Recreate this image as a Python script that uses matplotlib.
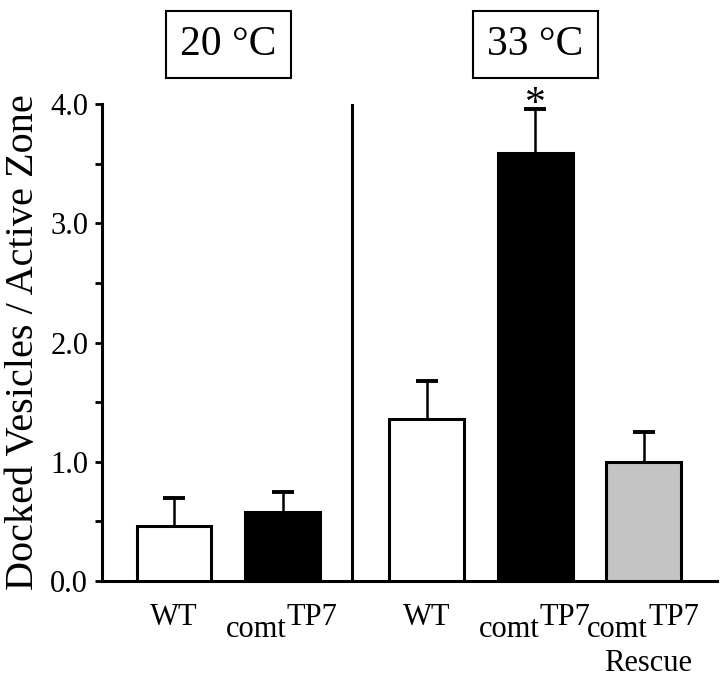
import matplotlib.pyplot as plt
from matplotlib.ticker import MultipleLocator, FormatStrFormatter
from matplotlib.transforms import blended_transform_factory

plt.rcParams["font.family"] = ["Liberation Serif", "DejaVu Serif"]

# data
temperatures = ["20 °C", "33 °C"]
bar_group = [0, 0, 1, 1, 1]
genotypes = ["WT", "comt", "WT", "comt", "comt"]
superscripts = ["", "TP7", "", "TP7", "TP7"]
second_lines = ["", "", "", "", "Rescue"]
means = [0.46, 0.58, 1.36, 3.59, 1.00]
sems = [0.24, 0.17, 0.32, 0.37, 0.25]
fills = ["white", "black", "white", "black", "#c4c4c4"]
significant = [False, False, False, True, False]

group_gap = 0.33
xpos = [i + group_gap * g for i, g in enumerate(bar_group)]

fig = plt.figure(figsize=(7.2, 6.77), dpi=100)
ax = fig.add_axes([0.1417, 0.1418, 0.854, 0.7045])

ax.bar(xpos, means, width=0.69, color=fills, edgecolor="black", linewidth=2.2, zorder=3)
_, caps, _ = ax.errorbar(xpos, means, yerr=[[0] * len(sems), sems], fmt="none", ecolor="black",
                         elinewidth=1.8, capsize=8, capthick=2.8, zorder=2)
caps[0].set_visible(False)  # only the upper half of the error bar

ax.set_xlim(-0.664, 5.005)
ax.set_ylim(0, 4.0)

# divider between temperatures
divider = (xpos[1] + xpos[2]) / 2 - 0.02
ax.axvline(divider, ymin=0, ymax=1, color="black", linewidth=2.2, zorder=1)

for side in ["top", "right"]:
    ax.spines[side].set_visible(False)
for side in ["left", "bottom"]:
    ax.spines[side].set_linewidth(2.2)

ax.yaxis.set_major_locator(MultipleLocator(1.0))
ax.yaxis.set_minor_locator(MultipleLocator(0.5))
ax.yaxis.set_major_formatter(FormatStrFormatter("%.1f"))
ax.tick_params(axis="y", which="both", direction="out", length=5, width=2,
               labelsize=22, pad=5)
ax.set_xticks([])
ax.set_ylabel("Docked Vesicles / Active Zone", fontsize=29, labelpad=6)

# category labels under the axis
xt = ax.get_xaxis_transform()
for x, name, sup, line2 in zip(xpos, genotypes, superscripts, second_lines):
    if sup:
        joint = x + 0.04
        ax.annotate(name, xy=(joint, 0), xycoords=xt, xytext=(0, -40.5), textcoords="offset points",
                    ha="right", va="baseline", fontsize=22)
        ax.annotate(sup, xy=(joint, 0), xycoords=xt, xytext=(0, -32), textcoords="offset points",
                    ha="left", va="baseline", fontsize=22)
    else:
        ax.annotate(name, xy=(x, 0), xycoords=xt, xytext=(0, -32), textcoords="offset points",
                    ha="center", va="baseline", fontsize=22)
    if line2:
        ax.annotate(line2, xy=(x + 0.04, 0), xycoords=xt, xytext=(0, -65), textcoords="offset points",
                    ha="center", va="baseline", fontsize=22)

# boxed temperature headers
tb = blended_transform_factory(ax.transData, ax.transAxes)
for g, label in enumerate(temperatures):
    members = [x for x, bg in zip(xpos, bar_group) if bg == g]
    cx = sum(members) / len(members)
    ax.text(cx, 1.125, label, transform=tb, ha="center", va="center", fontsize=30,
            bbox=dict(boxstyle="square,pad=0.35", fc="white", ec="black", lw=1.5))

# significance marker
for x, m, s, sig in zip(xpos, means, sems, significant):
    if sig:
        ax.text(x, m + s - 0.05, "*", ha="center", va="baseline", fontsize=30,
                clip_on=False, zorder=10)

fig.savefig("out.png", dpi=100)
